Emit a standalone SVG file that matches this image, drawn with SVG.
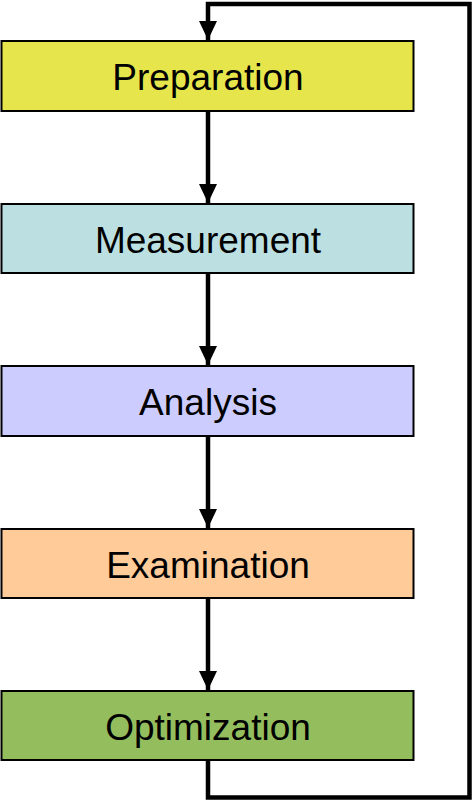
<svg xmlns="http://www.w3.org/2000/svg" width="474" height="802" viewBox="0 0 474 802">
<style>
.box{stroke:#000;stroke-width:2}
.lbl{font-family:"Liberation Sans",Arial,sans-serif;font-size:37px;fill:#000;text-anchor:middle}
.conn{fill:none;stroke:#000;stroke-width:4.5}
</style>
<defs>
<marker id="ah" markerUnits="userSpaceOnUse" markerWidth="20" markerHeight="20" viewBox="0 0 20 20" refX="19" refY="10" orient="auto">
<path d="M0,1 L19,10 L0,19 Z" fill="#000"/>
</marker>
</defs>
<g id="connectors">
<path class="conn" d="M208,111 V203" marker-end="url(#ah)"/>
<path class="conn" d="M208,273 V365" marker-end="url(#ah)"/>
<path class="conn" d="M208,436 V528" marker-end="url(#ah)"/>
<path class="conn" d="M208,598 V690" marker-end="url(#ah)"/>
<path class="conn" d="M208,760 V797.5 H469.5 V4 H208 V40" marker-end="url(#ah)"/>
</g>
<g id="preparation">
<rect class="box" x="1.5" y="41" width="412" height="70" fill="#E6E64C"/>
<text class="lbl" x="208" y="90">Preparation</text>
</g>
<g id="measurement">
<rect class="box" x="1.5" y="204" width="412" height="69" fill="#BCE0E2"/>
<text class="lbl" x="208" y="253">Measurement</text>
</g>
<g id="analysis">
<rect class="box" x="1.5" y="366" width="412" height="70" fill="#CCCCFF"/>
<text class="lbl" x="208" y="415">Analysis</text>
</g>
<g id="examination">
<rect class="box" x="1.5" y="529" width="412" height="69" fill="#FFCC99"/>
<text class="lbl" x="208" y="578">Examination</text>
</g>
<g id="optimization">
<rect class="box" x="1.5" y="691" width="412" height="69" fill="#94BE5E"/>
<text class="lbl" x="208" y="740">Optimization</text>
</g>
</svg>
